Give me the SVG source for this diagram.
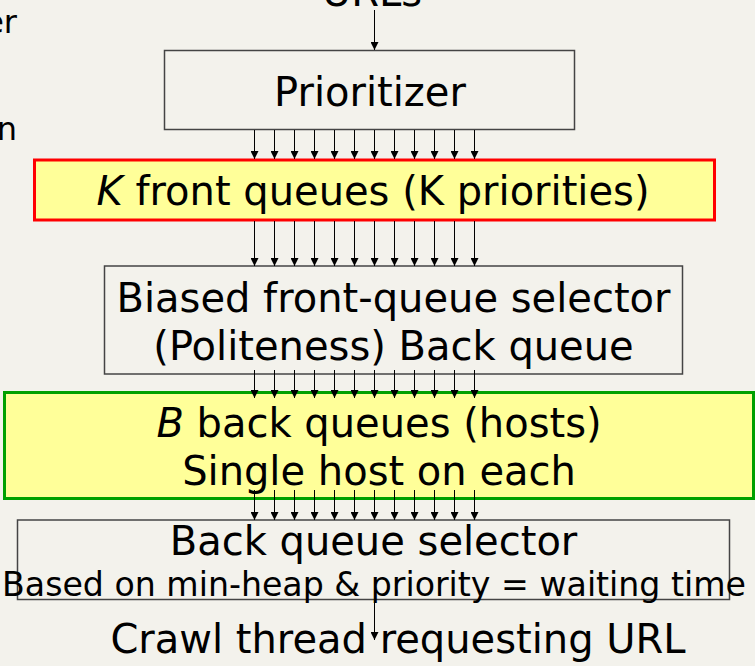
<svg xmlns="http://www.w3.org/2000/svg" width="755" height="666" viewBox="0 0 755 666">
<defs>
<style>
text{font-family:"DejaVu Sans","Liberation Sans",sans-serif;font-size:40px;fill:#000;text-anchor:middle}
.plain{fill:none;stroke:#444;stroke-width:1.5}
.front{fill:#ffff99;stroke:#ff0000;stroke-width:3}
.back{fill:#ffff99;stroke:#00a000;stroke-width:3}
.arr{stroke:#000;stroke-width:1;marker-end:url(#ah)}
</style>
<marker id="ah" viewBox="0 0 10 10" refX="10" refY="5" markerWidth="9" markerHeight="8" markerUnits="userSpaceOnUse" orient="auto">
<path d="M0,0 L10,5 L0,10 z" fill="#000"/>
</marker>
</defs>
<rect width="755" height="666" fill="#f3f2ec"/>
<g id="side-text">
<text x="17" y="33" style="text-anchor:end;font-size:32px">er</text>
<text x="17" y="140" style="text-anchor:end;font-size:32px">n</text>
</g>
<g id="urls"><text x="372" y="6">URLs</text></g>
<g id="prioritizer">
<rect class="plain" x="164.5" y="50.5" width="410" height="79"/>
<text x="370" y="106">Prioritizer</text>
</g>
<g id="front-queues">
<rect class="front" x="34.5" y="160" width="680" height="60"/>
<text x="373" y="205"><tspan font-style="italic">K</tspan> front queues (K priorities)</text>
</g>
<g id="front-selector">
<rect class="plain" x="104.5" y="266" width="578" height="108"/>
<text x="393.5" y="312">Biased front-queue selector</text>
<text x="393.5" y="360">(Politeness) Back queue</text>
</g>
<g id="back-queues">
<rect class="back" x="4.5" y="392.5" width="749" height="106"/>
<text x="379" y="437"><tspan font-style="italic">B</tspan> back queues (hosts)</text>
<text x="379" y="485">Single host on each</text>
</g>
<g id="back-selector">
<rect class="plain" x="17.5" y="520" width="712" height="79.5"/>
<text x="373.5" y="555">Back queue selector</text>
<text x="374" y="596" style="font-size:33.2px">Based on min-heap &amp; priority = waiting time</text>
</g>
<g id="crawl"><text x="398" y="653">Crawl thread requesting URL</text></g>
<g id="connectors">
<line class="arr" x1="374.5" y1="10" x2="374.5" y2="50"/>
<line class="arr" x1="374.5" y1="600" x2="374.5" y2="640"/>
<g id="set1">
<line class="arr" x1="254.5" y1="130" x2="254.5" y2="159"/>
<line class="arr" x1="274.5" y1="130" x2="274.5" y2="159"/>
<line class="arr" x1="294.5" y1="130" x2="294.5" y2="159"/>
<line class="arr" x1="314.5" y1="130" x2="314.5" y2="159"/>
<line class="arr" x1="334.5" y1="130" x2="334.5" y2="159"/>
<line class="arr" x1="354.5" y1="130" x2="354.5" y2="159"/>
<line class="arr" x1="374.5" y1="130" x2="374.5" y2="159"/>
<line class="arr" x1="394.5" y1="130" x2="394.5" y2="159"/>
<line class="arr" x1="414.5" y1="130" x2="414.5" y2="159"/>
<line class="arr" x1="434.5" y1="130" x2="434.5" y2="159"/>
<line class="arr" x1="454.5" y1="130" x2="454.5" y2="159"/>
<line class="arr" x1="474.5" y1="130" x2="474.5" y2="159"/>
</g>
<g id="set2">
<line class="arr" x1="254.5" y1="221" x2="254.5" y2="266"/>
<line class="arr" x1="274.5" y1="221" x2="274.5" y2="266"/>
<line class="arr" x1="294.5" y1="221" x2="294.5" y2="266"/>
<line class="arr" x1="314.5" y1="221" x2="314.5" y2="266"/>
<line class="arr" x1="334.5" y1="221" x2="334.5" y2="266"/>
<line class="arr" x1="354.5" y1="221" x2="354.5" y2="266"/>
<line class="arr" x1="374.5" y1="221" x2="374.5" y2="266"/>
<line class="arr" x1="394.5" y1="221" x2="394.5" y2="266"/>
<line class="arr" x1="414.5" y1="221" x2="414.5" y2="266"/>
<line class="arr" x1="434.5" y1="221" x2="434.5" y2="266"/>
<line class="arr" x1="454.5" y1="221" x2="454.5" y2="266"/>
<line class="arr" x1="474.5" y1="221" x2="474.5" y2="266"/>
</g>
<g id="set3">
<line class="arr" x1="254.5" y1="370" x2="254.5" y2="398"/>
<line class="arr" x1="274.5" y1="370" x2="274.5" y2="398"/>
<line class="arr" x1="294.5" y1="370" x2="294.5" y2="398"/>
<line class="arr" x1="314.5" y1="370" x2="314.5" y2="398"/>
<line class="arr" x1="334.5" y1="370" x2="334.5" y2="398"/>
<line class="arr" x1="354.5" y1="370" x2="354.5" y2="398"/>
<line class="arr" x1="374.5" y1="370" x2="374.5" y2="398"/>
<line class="arr" x1="394.5" y1="370" x2="394.5" y2="398"/>
<line class="arr" x1="414.5" y1="370" x2="414.5" y2="398"/>
<line class="arr" x1="434.5" y1="370" x2="434.5" y2="398"/>
<line class="arr" x1="454.5" y1="370" x2="454.5" y2="398"/>
<line class="arr" x1="474.5" y1="370" x2="474.5" y2="398"/>
</g>
<g id="set4">
<line class="arr" x1="254.5" y1="490" x2="254.5" y2="520"/>
<line class="arr" x1="274.5" y1="490" x2="274.5" y2="520"/>
<line class="arr" x1="294.5" y1="490" x2="294.5" y2="520"/>
<line class="arr" x1="314.5" y1="490" x2="314.5" y2="520"/>
<line class="arr" x1="334.5" y1="490" x2="334.5" y2="520"/>
<line class="arr" x1="354.5" y1="490" x2="354.5" y2="520"/>
<line class="arr" x1="374.5" y1="490" x2="374.5" y2="520"/>
<line class="arr" x1="394.5" y1="490" x2="394.5" y2="520"/>
<line class="arr" x1="414.5" y1="490" x2="414.5" y2="520"/>
<line class="arr" x1="434.5" y1="490" x2="434.5" y2="520"/>
<line class="arr" x1="454.5" y1="490" x2="454.5" y2="520"/>
<line class="arr" x1="474.5" y1="490" x2="474.5" y2="520"/>
</g>
</g>
</svg>
